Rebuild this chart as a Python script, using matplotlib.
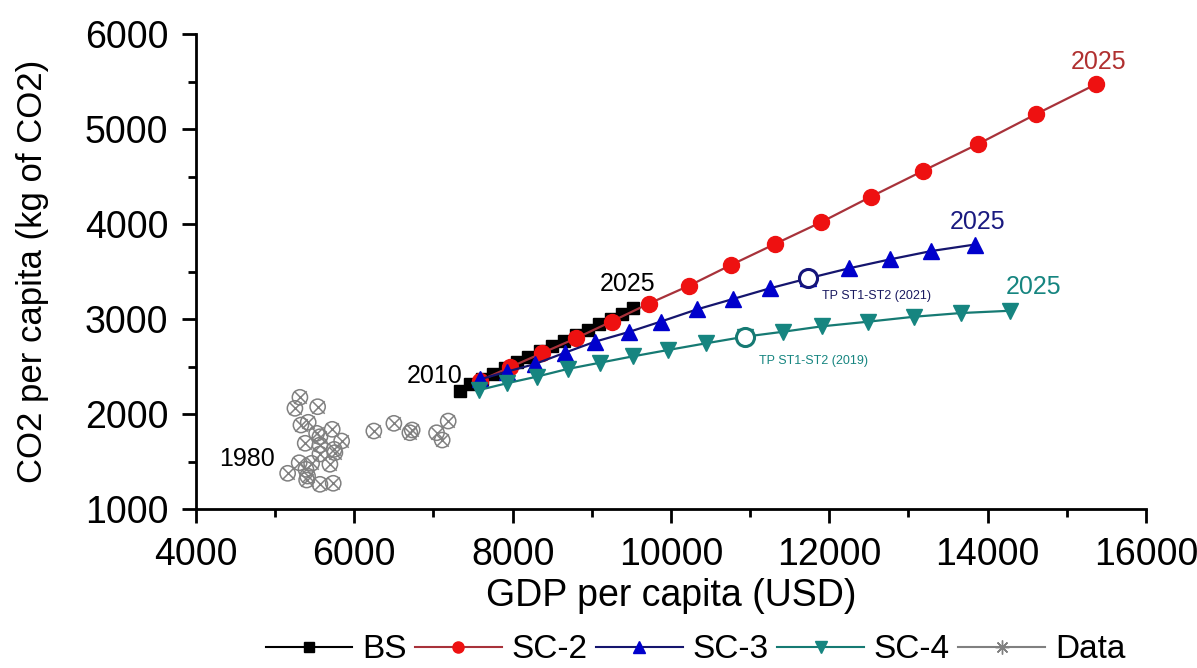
import matplotlib
matplotlib.use("Agg")
import matplotlib.pyplot as plt
from matplotlib.lines import Line2D
from matplotlib.ticker import MultipleLocator

plt.rcParams['font.family'] = ['Liberation Sans', 'DejaVu Sans']

# historische Daten 1980-2009 (GDP, CO2)
data_gdp = [5313, 5250, 5537, 5326, 5418, 5524, 5566, 5721, 5840, 5380,
            5566, 5746, 5755, 5566, 5304, 5461, 5692, 5158, 5389, 5410,
            5398, 5566, 5734, 6247, 6500, 6702, 6731, 7039, 7186, 7110]
data_co2 = [2176, 2060, 2077, 1884, 1913, 1797, 1761, 1839, 1716, 1692,
            1674, 1628, 1593, 1579, 1487, 1481, 1471, 1376, 1418, 1347,
            1305, 1260, 1271, 1821, 1902, 1803, 1832, 1803, 1926, 1726]

# BS 2010-2025
bs_gdp = [7333, 7466, 7607, 7754, 7902, 8049, 8192, 8343,
          8495, 8646, 8798, 8949, 9088, 9240, 9379, 9518]
bs_co2 = [2247, 2316, 2368, 2426, 2484, 2547, 2600, 2663,
          2716, 2768, 2832, 2884, 2947, 3000, 3058, 3121]

# Szenarien 2011-2025
sc2_gdp = [7586, 7965, 8365, 8798, 9249, 9717, 10229, 10755,
           11311, 11900, 12523, 13179, 13878, 14606, 15373]
sc2_co2 = [2351, 2492, 2639, 2797, 2974, 3161, 3351, 3568,
           3789, 4021, 4287, 4558, 4842, 5155, 5474]

sc3_gdp = [7586, 7923, 8280, 8659, 9038, 9465, 9875, 10330,
           10784, 11247, 11731, 12249, 12766, 13289, 13836]
sc3_co2 = [2365, 2445, 2526, 2645, 2761, 2863, 2974, 3102,
           3211, 3323, 3428, 3534, 3628, 3716, 3784]

sc4_gdp = [7577, 7923, 8302, 8693, 9101, 9518, 9963, 10439,
           10931, 11415, 11904, 12489, 13070, 13659, 14278]
sc4_co2 = [2253, 2323, 2393, 2474, 2540, 2607, 2674, 2744,
           2814, 2866, 2923, 2972, 3024, 3063, 3087]

tp3_idx = 10  # 2021
tp4_idx = 8   # 2019

fig = plt.figure(figsize=(11.97, 6.68), dpi=100)
ax = fig.add_axes([0.1637, 0.238, 0.7937, 0.711])

grau = '#808080'
ax.scatter(data_gdp, data_co2, s=120, facecolors='none', edgecolors=grau, linewidths=1.1, zorder=2)
ax.scatter(data_gdp, data_co2, s=80, marker='x', color=grau, linewidths=1.1, zorder=2)

ax.plot(bs_gdp, bs_co2, color='black', lw=1.5, marker='s', ms=9, mec='black', mfc='black', zorder=3)
ax.plot(sc2_gdp, sc2_co2, color='#a8323a', lw=1.6, marker='o', ms=11.5, mfc='#ee1111', mec='#ee1111', zorder=4)
ax.plot(sc3_gdp, sc3_co2, color='#15156e', lw=1.6, marker='^', ms=11.5, mfc='#0000cc', mec='#0000cc', zorder=5)
ax.plot(sc4_gdp, sc4_co2, color='#167a73', lw=1.6, marker='v', ms=11.5, mfc='#168580', mec='#168580', zorder=6)

# Wendepunkte
ax.plot(sc3_gdp[tp3_idx], sc3_co2[tp3_idx], 'o', ms=13, mfc='white', mec='#15157a', mew=2.2, zorder=7)
ax.plot(sc4_gdp[tp4_idx], sc4_co2[tp4_idx], 'o', ms=13, mfc='white', mec='#167a73', mew=2.2, zorder=7)

# Beschriftungen
ax.text(7020, 2400, '2010', fontsize=18, ha='center', va='center')
ax.text(9450, 3370, '2025', fontsize=18, ha='center', va='center')
ax.text(4650, 1530, '1980', fontsize=18, ha='center', va='center')
ax.text(15400, 5710, '2025', fontsize=18, color='#b03030', ha='center', va='center')
ax.text(13870, 4020, '2025', fontsize=18, color='#1a1a80', ha='center', va='center')
ax.text(14580, 3340, '2025', fontsize=18, color='#168580', ha='center', va='center')
ax.text(12600, 3240, 'TP ST1-ST2 (2021)', fontsize=9, color='#1a1a60', ha='center', va='center')
ax.text(11800, 2560, 'TP ST1-ST2 (2019)', fontsize=9, color='#168580', ha='center', va='center')

ax.set_xlim(4000, 16000)
ax.set_ylim(1000, 6000)
ax.xaxis.set_major_locator(MultipleLocator(2000))
ax.xaxis.set_minor_locator(MultipleLocator(1000))
ax.yaxis.set_major_locator(MultipleLocator(1000))
ax.yaxis.set_minor_locator(MultipleLocator(500))
ax.tick_params(which='major', direction='out', length=10, width=2, labelsize=27, pad=10)
ax.tick_params(which='minor', direction='out', length=6, width=2)
for s in ['top', 'right']:
    ax.spines[s].set_visible(False)
for s in ['left', 'bottom']:
    ax.spines[s].set_linewidth(2)

ax.set_xlabel('GDP per capita (USD)', fontsize=27, labelpad=4)
ax.set_ylabel('CO2 per capita (kg of CO2)', fontsize=25, labelpad=26)

handles = [
    Line2D([], [], color='black', lw=1.5, marker='s', ms=7, mfc='black', mec='black'),
    Line2D([], [], color='#a8323a', lw=1.5, marker='o', ms=8, mfc='#ee1111', mec='#ee1111'),
    Line2D([], [], color='#15156e', lw=1.5, marker='^', ms=8, mfc='#0000cc', mec='#0000cc'),
    Line2D([], [], color='#167a73', lw=1.5, marker='v', ms=8, mfc='#168580', mec='#168580'),
    Line2D([], [], color=grau, lw=1.5, marker=(8, 2, 0), ms=10, mec=grau),
]
fig.legend(handles, ['BS', 'SC-2', 'SC-3', 'SC-4', 'Data'], loc='center',
           bbox_to_anchor=(0.581, 0.027), ncol=5, frameon=False, fontsize=24,
           handlelength=2.6, handletextpad=0.3, columnspacing=0.25)

fig.savefig('out.png', dpi=100)
